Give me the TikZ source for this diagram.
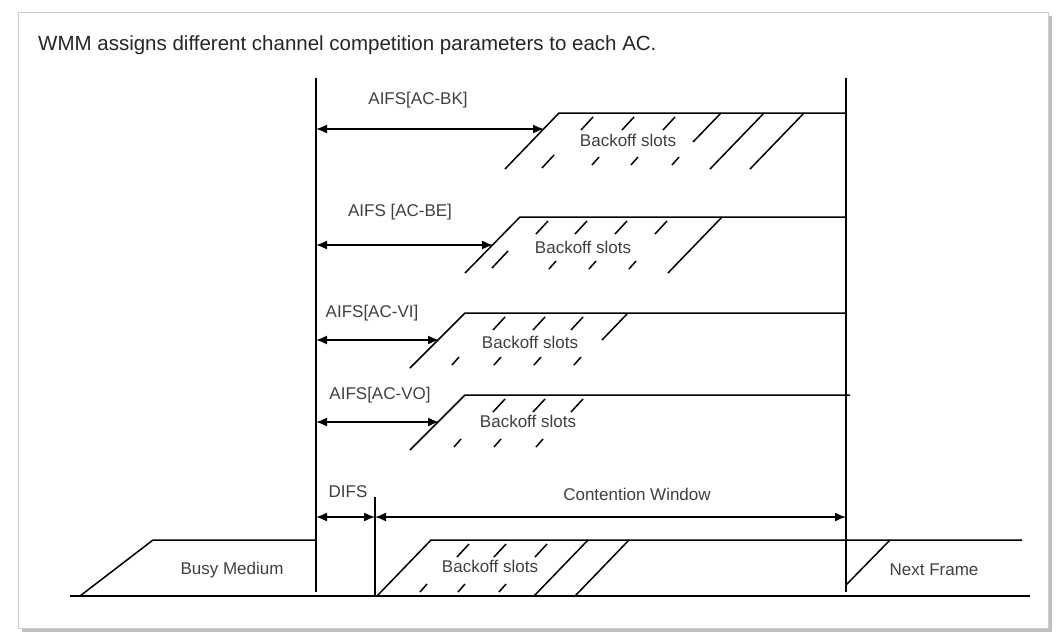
\documentclass[tikz,border=0pt]{standalone}
\usepackage{fontspec}
\setmainfont{Liberation Sans}
\usetikzlibrary{arrows.meta}
\tikzset{
    line/.style={line width=1.5pt},
    arr/.style={line width=1.5pt,{Latex[length=11pt,width=9pt]}-{Latex[length=11pt,width=9pt]}},
    lbl/.style={inner sep=0pt,font=\fontsize{17}{17}\selectfont,text=black!75},
}
% short hatch pieces of a slot row: top dashes and bottom dashes
\newcommand{\topdash}[2]{\foreach \t in {#1} \draw[line] (\t,#2+4) -- ++(-12,13);}
\newcommand{\botdash}[2]{\foreach \b in {#1} \draw[line] (\b+6,#2+44) -- ++(-7,8);}
\begin{document}
\begin{tikzpicture}[x=1pt,y=-1pt]
    \useasboundingbox (0,0) rectangle (1064,643);
    \fill[black!25] (22,16) rectangle (1052,632);
    \fill[white] (18,12) rectangle (1048,628);
    \draw[black!20] (18,12) rectangle (1048,628);
    \node[anchor=west,inner sep=0pt,font=\fontsize{20.5}{20.5}\selectfont,text=black!85] (title) at (38,45) {WMM assigns different channel competition parameters to each AC.};

    % vertical markers
    \coordinate (s0) at (316,78);  \coordinate (s1) at (316,592);
    \coordinate (e0) at (846,78);  \coordinate (e1) at (846,592);
    \coordinate (d0) at (375,497); \coordinate (d1) at (375,596);
    \draw[line] (s0) -- (s1);
    \draw[line] (e0) -- (e1);
    \draw[line] (d0) -- (d1);

    % AC-BK
    \coordinate (bk0) at (505,169); \coordinate (bk1) at (559,113); \coordinate (bk2) at (846,113);
    \draw[line] (bk0) -- (bk1) -- (bk2);
    \coordinate (bka) at (316,129); \coordinate (bkb) at (544,129);
    \draw[arr] (bka) -- (bkb);
    \node[lbl] (bkl) at (418,100) {AIFS[AC-BK]};
    \node[lbl] (bks) at (628,140) {Backoff slots};
    \topdash{593,634,675}{113}
    \botdash{593,632,673}{113}
    \draw[line] (554,155) -- ++(-12,13);
    \draw[line] (721,113) -- ++(-28,29);
    \draw[line] (764,113) -- ++(-54,56);
    \draw[line] (804,113) -- ++(-54,56);

    % AC-BE
    \coordinate (be0) at (465,273); \coordinate (be1) at (520,217); \coordinate (be2) at (846,217);
    \draw[line] (be0) -- (be1) -- (be2);
    \coordinate (bea) at (316,245); \coordinate (beb) at (493,245);
    \draw[arr] (bea) -- (beb);
    \node[lbl] (bel) at (400,212) {AIFS [AC-BE]};
    \node[lbl] (bes) at (583,247) {Backoff slots};
    \topdash{548,587,627,667}{217}
    \botdash{550,590,630}{217}
    \draw[line] (508,251) -- ++(-16,17);
    \draw[line] (722,217) -- ++(-54,56);

    % AC-VI
    \coordinate (vi0) at (410,368); \coordinate (vi1) at (465,313); \coordinate (vi2) at (846,313);
    \draw[line] (vi0) -- (vi1) -- (vi2);
    \coordinate (via) at (316,340); \coordinate (vib) at (439,340);
    \draw[arr] (via) -- (vib);
    \node[lbl] (vil) at (372,313) {AIFS[AC-VI]};
    \node[lbl] (vis) at (530,342) {Backoff slots};
    \topdash{505,545,583}{313}
    \botdash{453,495,535,575}{313}
    \draw[line] (627,314) -- ++(-25,26);

    % AC-VO
    \coordinate (vo0) at (410,450); \coordinate (vo1) at (465,395); \coordinate (vo2) at (850,395);
    \draw[line] (vo0) -- (vo1) -- (vo2);
    \coordinate (voa) at (316,422); \coordinate (vob) at (439,422);
    \draw[arr] (voa) -- (vob);
    \node[lbl] (vol) at (380,395) {AIFS[AC-VO]};
    \node[lbl] (vos) at (528,421) {Backoff slots};
    \topdash{505,545,583}{395}
    \botdash{455,495,537}{395}

    % medium timeline
    \coordinate (m0) at (70,596); \coordinate (m1) at (1030,596);
    \draw[line] (m0) -- (m1);
    \coordinate (bm0) at (80,596); \coordinate (bm1) at (153,540); \coordinate (bm2) at (316,540);
    \draw[line] (bm0) -- (bm1) -- (bm2);
    \node[lbl] (busy) at (232,570) {Busy Medium};
    \coordinate (cw0) at (377,596); \coordinate (cw1) at (431,540); \coordinate (cw2) at (1022,540);
    \draw[line] (cw0) -- (cw1) -- (cw2);
    \node[lbl] (cws) at (490,566) {Backoff slots};
    \topdash{469,506,547}{540}
    \botdash{421,459,500}{540}
    \draw[line] (588,540) -- ++(-54,56);
    \draw[line] (629,540) -- ++(-54,56);
    \coordinate (nf0) at (846,585); \coordinate (nf1) at (890,540);
    \draw[line] (nf0) -- (nf1);
    \node[lbl] (next) at (934,570) {Next Frame};

    % DIFS and contention window
    \coordinate (da) at (316,517); \coordinate (db) at (375,517); \coordinate (dc) at (846,517);
    \draw[arr] (da) -- (db);
    \draw[arr] (db) -- (dc);
    \node[lbl] (difs) at (348,492) {DIFS};
    \node[lbl] (cw) at (637,494) {Contention Window};
\end{tikzpicture}
\end{document}
